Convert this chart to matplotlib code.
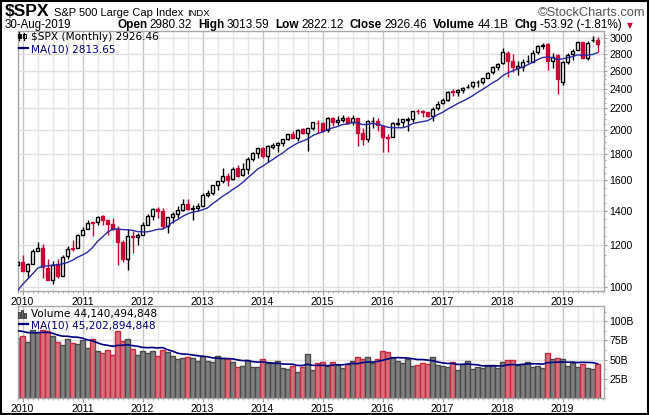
import numpy as np
import pandas as pd
import matplotlib
matplotlib.use('Agg')
import matplotlib.pyplot as plt
from matplotlib import ticker
from matplotlib.patches import Rectangle
from matplotlib.lines import Line2D

# Monthly $SPX bars, Dec-2009 .. Aug-2019
opens = [
    1098.89,
    1116.56, 1073.89, 1105.36, 1171.23, 1188.58, 1087.30, 1031.10, 1107.53, 1049.72, 1143.49, 1185.71, 1186.60,
    1257.62, 1289.14, 1328.64, 1329.48, 1365.21, 1345.20, 1320.64, 1292.59, 1219.12, 1131.21, 1251.00, 1246.91,
    1258.86, 1312.45, 1365.90, 1408.47, 1397.86, 1309.87, 1362.33, 1379.32, 1406.54, 1440.90, 1412.20, 1416.18,
    1426.19, 1498.11, 1514.68, 1569.18, 1597.55, 1631.71, 1609.78, 1689.42, 1635.95, 1682.41, 1758.70, 1806.55,
    1845.86, 1782.68, 1857.68, 1873.96, 1884.39, 1923.87, 1962.29, 1929.80, 2004.07, 1971.44, 2018.21, 2065.78,
    2058.90, 1996.67, 2105.23, 2067.63, 2087.38, 2108.64, 2067.00, 2104.49, 1970.09, 1919.65, 2080.76, 2082.93,
    2038.20, 1936.94, 1937.09, 2056.62, 2067.17, 2093.94, 2099.34, 2173.15, 2171.33, 2164.33, 2128.68, 2200.17,
    2251.57, 2285.59, 2380.13, 2362.34, 2388.50, 2415.65, 2431.39, 2477.10, 2474.42, 2521.20, 2583.21, 2645.10,
    2683.73, 2816.45, 2715.22, 2633.45, 2642.96, 2718.70, 2704.95, 2821.17, 2896.96, 2926.29, 2717.58, 2790.50,
    2476.96, 2702.32, 2798.22, 2848.63, 2952.33, 2751.53, 2971.41, 2980.32,
]
highs = [
    1130.38,
    1150.45, 1112.42, 1180.16, 1219.80, 1205.13, 1131.23, 1120.95, 1129.24, 1148.90, 1196.14, 1227.08, 1262.60,
    1302.67, 1344.07, 1332.28, 1366.08, 1370.58, 1345.20, 1356.48, 1307.38, 1229.29, 1292.66, 1277.55, 1269.37,
    1333.47, 1378.04, 1419.15, 1422.38, 1415.32, 1363.46, 1391.74, 1426.68, 1474.51, 1470.96, 1434.27, 1448.00,
    1509.94, 1530.94, 1570.28, 1597.57, 1687.18, 1654.19, 1698.78, 1709.67, 1729.86, 1775.22, 1813.55, 1849.44,
    1850.84, 1867.92, 1883.97, 1897.28, 1924.03, 1968.17, 1991.39, 2005.04, 2019.26, 2018.19, 2075.76, 2093.55,
    2072.36, 2119.59, 2117.52, 2125.92, 2134.72, 2129.87, 2132.82, 2112.66, 2020.86, 2094.32, 2116.48, 2104.27,
    2038.20, 1962.96, 2072.21, 2111.05, 2103.48, 2120.55, 2177.09, 2193.81, 2187.87, 2169.60, 2214.10, 2277.53,
    2300.99, 2371.54, 2400.98, 2398.16, 2418.71, 2453.82, 2484.04, 2490.87, 2519.44, 2582.98, 2657.74, 2694.97,
    2872.87, 2835.96, 2801.90, 2717.49, 2742.24, 2791.47, 2848.03, 2916.50, 2940.91, 2939.86, 2815.15, 2800.18,
    2708.95, 2813.49, 2860.31, 2949.52, 2954.13, 2964.15, 3027.98, 3013.59,
]
lows = [
    1085.89,
    1071.59, 1044.50, 1105.36, 1170.69, 1040.78, 1028.33, 1010.91, 1039.70, 1048.18, 1131.87, 1173.00, 1186.60,
    1257.62, 1289.14, 1249.05, 1312.34, 1311.80, 1258.07, 1282.86, 1101.54, 1114.22, 1074.77, 1158.66, 1202.37,
    1258.86, 1312.45, 1340.03, 1357.38, 1291.98, 1266.74, 1325.41, 1354.65, 1396.56, 1403.28, 1343.35, 1398.11,
    1426.19, 1485.01, 1501.48, 1536.03, 1581.28, 1560.33, 1604.57, 1627.47, 1633.41, 1646.47, 1746.20, 1767.99,
    1770.45, 1737.92, 1834.44, 1814.36, 1859.79, 1915.98, 1930.67, 1904.78, 1964.04, 1820.66, 2001.01, 1972.56,
    1988.12, 1980.90, 2039.69, 2048.38, 2067.93, 2056.32, 2044.02, 1867.01, 1871.91, 1893.70, 2019.39, 1993.26,
    1812.29, 1810.10, 1937.09, 2033.80, 2025.91, 1991.68, 2074.02, 2147.58, 2119.12, 2114.72, 2083.79, 2187.44,
    2245.13, 2271.65, 2322.25, 2328.95, 2352.72, 2405.70, 2407.70, 2417.35, 2446.55, 2520.40, 2566.17, 2605.52,
    2682.36, 2532.69, 2585.89, 2553.80, 2594.62, 2691.99, 2698.95, 2796.34, 2864.12, 2603.54, 2631.09, 2346.58,
    2443.96, 2681.83, 2722.27, 2848.63, 2750.52, 2728.81, 2952.22, 2822.12,
]
closes = [
    1115.10,
    1073.87, 1104.49, 1169.43, 1186.69, 1089.41, 1030.71, 1101.60, 1049.33, 1141.20, 1183.26, 1180.55, 1257.64,
    1286.12, 1327.22, 1325.83, 1363.61, 1345.20, 1320.64, 1292.28, 1218.89, 1131.42, 1253.30, 1246.96, 1257.60,
    1312.41, 1365.68, 1408.47, 1397.91, 1310.33, 1362.16, 1379.32, 1406.58, 1440.67, 1412.16, 1416.18, 1426.19,
    1498.11, 1514.68, 1569.19, 1597.57, 1630.74, 1606.28, 1685.73, 1632.97, 1681.55, 1756.54, 1805.81, 1848.36,
    1782.59, 1859.45, 1872.34, 1883.95, 1923.57, 1960.23, 1930.67, 2003.37, 1972.29, 2018.05, 2067.56, 2058.90,
    1994.99, 2104.50, 2067.89, 2085.51, 2107.39, 2063.11, 2103.84, 1972.18, 1920.03, 2079.36, 2080.41, 2043.94,
    1940.24, 1932.23, 2059.74, 2065.30, 2096.95, 2098.86, 2173.60, 2170.95, 2168.27, 2126.15, 2198.81, 2238.83,
    2278.87, 2363.64, 2362.72, 2384.20, 2411.80, 2423.41, 2470.30, 2471.65, 2519.36, 2575.26, 2647.58, 2673.61,
    2823.81, 2713.83, 2640.87, 2648.05, 2705.27, 2718.37, 2816.29, 2901.52, 2913.98, 2711.74, 2760.17, 2506.85,
    2704.10, 2784.49, 2834.40, 2945.83, 2752.06, 2941.76, 2980.38, 2926.46,
]
# monthly volume, billions of shares
volumes = [
    77.9,
    80.9, 72.8, 88.0, 86.5, 88.5, 87.5, 80.9, 72.8, 69.3, 76.6, 71.0, 70.2,
    75.3, 64.6, 76.6, 61.6, 58.5, 62.4, 56.4, 87.4, 74.1, 76.6, 63.7, 56.4,
    61.6, 58.1, 61.6, 55.1, 62.4, 59.4, 55.1, 50.8, 52.1, 53.8, 52.1, 48.6,
    54.2, 48.6, 47.3, 54.7, 52.1, 50.8, 47.3, 40.9, 42.2, 49.5, 40.9, 40.9,
    50.8, 45.6, 45.6, 48.2, 39.1, 37.8, 41.3, 33.5, 40.0, 57.2, 36.6, 45.6,
    46.9, 42.2, 46.9, 43.0, 39.6, 43.9, 48.6, 53.4, 50.8, 53.4, 45.6, 50.8,
    61.6, 59.8, 53.4, 48.6, 45.6, 50.8, 41.7, 43.0, 45.6, 44.3, 53.4, 43.0,
    41.7, 40.4, 46.9, 36.6, 43.9, 48.2, 37.8, 40.4, 39.1, 43.0, 43.0, 39.1,
    46.9, 49.5, 49.5, 43.0, 44.3, 46.9, 40.4, 41.7, 39.1, 58.5, 50.8, 52.1,
    50.8, 41.7, 45.6, 40.4, 44.3, 39.1, 37.8, 44.14,
]
# Mar..Nov 2009, only needed to warm up the 10-month averages
prior_closes = [797.87, 872.81, 919.14, 919.32, 987.48, 1020.62, 1057.08, 1036.19, 1095.63]
prior_volumes = [90.0, 88.0, 90.0, 86.0, 84.0, 88.0, 92.0, 95.0, 85.0]
prev_close_nov09 = 1095.63

years = [str(y) for y in range(2010, 2020)]
price_ticks = [1000, 1200, 1400, 1600, 1800, 2000, 2200, 2400, 2600, 2800, 3000]
vol_ticks = [25, 50, 75, 100]

RED = '#cc0033'
NAVY = '#000080'
W, H = 650, 415

o = np.array(opens); hi = np.array(highs); lo = np.array(lows); c = np.array(closes)
n = len(c)
x = np.arange(n)
prev = np.concatenate([[prev_close_nov09], c[:-1]])
col = np.where(c < prev, RED, 'black')
face = np.where(c < o, col, 'white')

ma_price = pd.Series(prior_closes + closes).rolling(10).mean().to_numpy()[len(prior_closes):]
ma_vol = pd.Series(prior_volumes + volumes).rolling(10).mean().to_numpy()[len(prior_volumes):]

fig = plt.figure(figsize=(W / 100, H / 100), dpi=100)
fig.patch.set_facecolor('white')


def px_rect(l, t, r, b):
    return [l / W, 1 - b / H, (r - l) / W, (b - t) / H]


ax = fig.add_axes(px_rect(17.5, 31, 604, 291))
axv = fig.add_axes(px_rect(17.5, 306, 604, 398))

year_idx = [1 + 12 * k for k in range(len(years))]
quarter_idx = [i for i in range(n + 2) if (i - 1) % 3 == 0 and (i - 1) % 12 != 0]

for a in (ax, axv):
    a.set_xlim(0, (604 - 17.5) / 5)
    for q in quarter_idx:
        a.axvline(q, color='#e6e6e6', lw=1, zorder=0)
    for yi in year_idx:
        a.axvline(yi, color='#c4c4c4', lw=1, zorder=0)
    a.set_xticks(year_idx)
    a.set_xticklabels(years, fontsize=7.6, family='Liberation Sans')
    a.xaxis.set_minor_locator(ticker.FixedLocator(list(range(n + 2))))
    a.tick_params(axis='x', which='major', length=3, color='#999999', pad=1.5)
    a.tick_params(axis='x', which='minor', length=1.5, color='#999999')
    a.yaxis.tick_right()
    a.tick_params(axis='y', which='major', length=2, color='#999999', pad=2,
                  labelsize=7.6)
    a.tick_params(axis='y', which='minor', length=1.5, color='#999999')
    for s in a.spines.values():
        s.set_color('#a8a8a8')
        s.set_linewidth(1)

# price panel
ax.set_yscale('log')
ax.set_ylim(981, 3098)
ax.yaxis.set_major_locator(ticker.FixedLocator(price_ticks))
ax.yaxis.set_major_formatter(ticker.FixedFormatter([str(t) for t in price_ticks]))
ax.yaxis.set_minor_locator(ticker.FixedLocator([v for v in range(1000, 3101, 50) if v not in price_ticks]))
ax.yaxis.set_minor_formatter(ticker.NullFormatter())
for lab in ax.get_yticklabels():
    lab.set_family('Liberation Sans')
for t in price_ticks:
    ax.axhline(t, color='#e0e0e0', lw=1, zorder=0)

ax.vlines(x, lo, hi, colors=col, lw=1.0, zorder=2)
ax.bar(x, np.abs(c - o), bottom=np.minimum(o, c), width=0.78, color=face,
       edgecolor=col, linewidth=1.0, zorder=3)
ax.plot(x, ma_price, color='#2a2aa8', lw=1.0, zorder=4)

# volume panel
vface = np.where(c < prev, '#d7707c', '#808080')
vedge = np.where(c < prev, '#c62a40', '#4a4a4a')
axv.set_ylim(0, (398 - 306) / 0.768)
axv.yaxis.set_major_locator(ticker.FixedLocator(vol_ticks))
axv.yaxis.set_major_formatter(ticker.FixedFormatter([f'{t}B' for t in vol_ticks]))
axv.yaxis.set_minor_locator(ticker.FixedLocator([12.5, 37.5, 62.5, 87.5, 112.5]))
for lab in axv.get_yticklabels():
    lab.set_family('Liberation Sans')
for t in vol_ticks:
    axv.axhline(t, color='#e0e0e0', lw=1, zorder=0)
axv.bar(x, volumes, width=1.0, color=vface, edgecolor=vedge, linewidth=1.0, zorder=2)
axv.plot(x, ma_vol, color=NAVY, lw=1.2, zorder=3)

# header texts
renderer = fig.canvas.get_renderer()


def put(xp, yp, s, **kw):
    t = fig.text(xp / W, 1 - yp / H, s, ha='left', va='baseline', **kw)
    return t.get_window_extent(renderer).x1


LS = 'Liberation Sans'
xp = put(5, 16, '$SPX', fontsize=12.5, fontweight='bold', family=LS)
xp = put(xp + 4, 16, 'S&P 500 Large Cap Index', fontsize=8, family=LS)
put(xp + 4, 16, 'INDX', fontsize=6.8, family=LS)
fig.text(645 / W, 1 - 16 / H, '\u00a9StockCharts.com', ha='right', va='baseline',
         fontsize=9.3, family=LS, color='#555555')

put(5, 28, '30-Aug-2019', fontsize=8.3, family=LS)
xp = 117
parts = [('Open', '2980.32'), ('High', '3013.59'), ('Low', '2822.12'),
         ('Close', '2926.46'), ('Volume', '44.1B'), ('Chg', '-53.92 (-1.81%)')]
for lab, val in parts:
    xp = put(xp, 28, lab, fontsize=8.5, fontweight='bold', family=LS)
    xp = put(xp + 2.5, 28, val, fontsize=8.5, family=LS)
    xp += 6
put(xp - 1, 28, '\u25bc', fontsize=5.5, color=RED, family='DejaVu Sans')

# legends
DJ = 'DejaVu Sans'


def fig_px(xp, yp):
    return xp / W, 1 - yp / H


def add_rect(l, t, w, h, fc, ec):
    r = Rectangle(fig_px(l, t + h), w / W, h / H, transform=fig.transFigure,
                  facecolor=fc, edgecolor=ec, linewidth=0.7)
    fig.add_artist(r)


def add_line(x0, y0, x1, y1, colr, lw):
    fig.add_artist(Line2D([x0 / W, x1 / W], [1 - y0 / H, 1 - y1 / H],
                          transform=fig.transFigure, color=colr, lw=lw))


# candle icon
add_line(19, 32, 19, 40, 'black', 0.8)
add_rect(17.5, 34, 3, 4, 'black', 'black')
add_line(24, 33, 24, 40, 'black', 0.8)
add_rect(22.5, 34.5, 3, 4, 'white', 'black')
put(31, 40, '$SPX (Monthly) 2926.46', fontsize=7.6, family=DJ)
add_line(19, 48, 28, 48, NAVY, 1.6)
put(31, 52, 'MA(10) 2813.65', fontsize=7.6, family=DJ, color=NAVY)

# volume icon
add_rect(18, 312, 2, 6, '#707070', '#404040')
add_rect(21, 310, 2, 8, '#707070', '#404040')
add_rect(24, 313, 2, 5, '#707070', '#404040')
put(31, 317.5, 'Volume 44,140,494,848', fontsize=7.6, family=DJ)
add_line(19, 324, 28, 324, NAVY, 1.6)
put(31, 328, 'MA(10) 45,202,894,848', fontsize=7.6, family=DJ, color=NAVY)

# outer frame
fig.add_artist(Rectangle((0.002, 0.003), 0.995, 0.994, transform=fig.transFigure,
                         fill=False, edgecolor='black', linewidth=1.5))

fig.savefig('out.png', dpi=100)
